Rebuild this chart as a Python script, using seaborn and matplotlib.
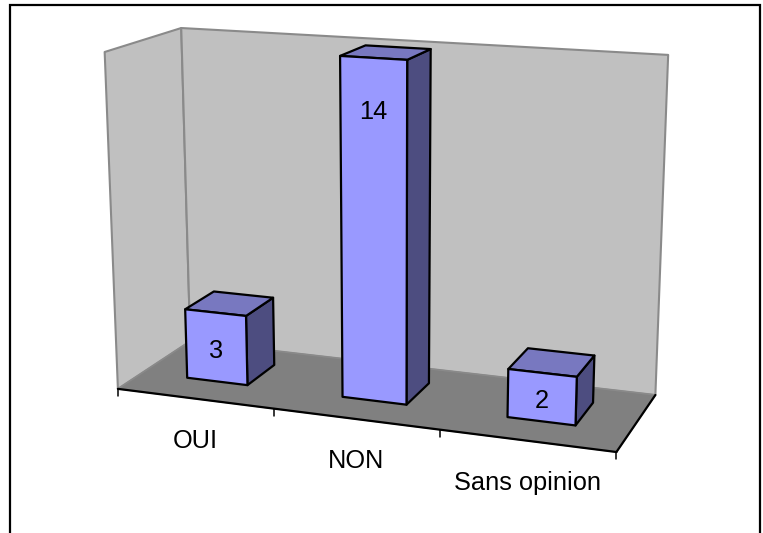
import numpy as np
import pandas as pd
import matplotlib
matplotlib.use("Agg")
import matplotlib.pyplot as plt
from matplotlib.patches import Polygon
from matplotlib.transforms import Transform
import seaborn as sns

categories = ["OUI", "NON", "Sans opinion"]
values = [3, 14, 2]

Z_MAX = 14
BAR_WIDTH = 0.395
BAR_CENTER = 0.493
DEPTH_FRONT, DEPTH_BACK = 0.33, 0.74
C_FRONT, C_TOP, C_SIDE = "#9999FF", "#7878C0", "#4D4D80"
C_WALL, C_FLOOR, C_WALL_EDGE = "#C0C0C0", "#808080", "#8A8A8A"
W, H = 763, 533

sns.set_theme(style="white")
plt.rcParams["font.family"] = ["Liberation Sans", "DejaVu Sans"]

# camera calibrated on the corners of the plot box (world x, depth, z -> pixel)
world = np.array([[0, 0, 0], [3, 0, 0], [3, 1, 0], [0, 1, 0],
                  [0, 1, Z_MAX], [3, 1, Z_MAX], [0, 0, Z_MAX]], float)
pixel = np.array([[118, 387], [617, 453], [655, 394], [190, 343],
                  [182, 27], [668, 55], [104, 53]], float)
A, b = [], []
for (X, Y, Z), (u, v) in zip(world, pixel):
    A.append([X, Y, Z, 1, 0, 0, 0, 0, -u * X, -u * Y, -u * Z]); b.append(u)
    A.append([0, 0, 0, 0, X, Y, Z, 1, -v * X, -v * Y, -v * Z]); b.append(v)
P = np.append(np.linalg.lstsq(np.array(A), np.array(b), rcond=None)[0], 1).reshape(3, 4)


def project(x, y, z):
    h = P @ np.array([x, y, z, 1.0])
    return h[0] / h[2], h[1] / h[2]


class FrontPlane(Transform):
    """Maps seaborn's bar coordinates (category position, value) onto the bars' front plane."""
    input_dims = output_dims = 2

    def transform_non_affine(self, values):
        xy = np.asarray(values, float)
        return np.array([project(px + BAR_CENTER, DEPTH_FRONT, pz) for px, pz in xy])


fig, ax = plt.subplots(figsize=(W / 100, H / 100), dpi=100)
fig.subplots_adjust(0, 0, 1, 1)

df = pd.DataFrame({"cat": categories, "val": values})
sns.barplot(data=df, x="cat", y="val", ax=ax, color=C_FRONT, saturation=1,
            width=BAR_WIDTH, edgecolor="black", linewidth=1.6, zorder=4)
ax.set_xlim(0, W)
ax.set_ylim(H, 0)
ax.set_axis_off()

front = FrontPlane() + ax.transData
for patch in ax.patches:
    patch.set_transform(front)
    patch.set_joinstyle("round")


def quad(corners, fc, ec, lw=1.6, z=3):
    ax.add_patch(Polygon([project(*c) for c in corners], closed=True, facecolor=fc,
                         edgecolor=ec, linewidth=lw, zorder=z, joinstyle="round"))


n = len(categories)
# walls and floor
quad([(0, 0, 0), (0, 1, 0), (0, 1, Z_MAX), (0, 0, Z_MAX)], C_WALL, C_WALL_EDGE, 1.5, 1)
quad([(0, 1, 0), (n, 1, 0), (n, 1, Z_MAX), (0, 1, Z_MAX)], C_WALL, C_WALL_EDGE, 1.5, 1)
quad([(0, 0, 0), (n, 0, 0), (n, 1, 0), (0, 1, 0)], C_FLOOR, C_WALL_EDGE, 1.0, 2)
for a, b_ in [((0, 0, 0), (n, 0, 0)), ((n, 0, 0), (n, 1, 0))]:
    pa, pb = project(*a), project(*b_)
    ax.plot([pa[0], pb[0]], [pa[1], pb[1]], color="black", lw=1.6, zorder=2.5,
            solid_capstyle="round")

# ticks and category labels
for i in range(n + 1):
    tx, ty = project(i, 0, 0)
    ax.plot([tx, tx], [ty, ty + 7], color="black", lw=1.1, zorder=2.5)
for i, c in enumerate(categories):
    tx, ty = project(i + 0.5, 0, 0)
    ax.text(tx + 1, ty + 42.5, c, ha="center", va="center", fontsize=18.3, color="black")

# side and top faces, data labels
for i, v in enumerate(values):
    x0, x1 = i + BAR_CENTER - BAR_WIDTH / 2, i + BAR_CENTER + BAR_WIDTH / 2
    quad([(x1, DEPTH_FRONT, 0), (x1, DEPTH_BACK, 0), (x1, DEPTH_BACK, v), (x1, DEPTH_FRONT, v)],
         C_SIDE, "black")
    quad([(x0, DEPTH_FRONT, v), (x1, DEPTH_FRONT, v), (x1, DEPTH_BACK, v), (x0, DEPTH_BACK, v)],
         C_TOP, "black")
    lx, ly = project(i + BAR_CENTER, DEPTH_FRONT, v - min(v / 2, 2.0))
    ax.text(lx, ly + 3.5, str(v), ha="center", va="center", fontsize=18.3, color="black", zorder=5)

# chart frame (open at the bottom)
ax.plot([10, 10, 760, 760], [H, 5, 5, H], color="black", lw=1.6, zorder=6,
        solid_joinstyle="miter", clip_on=False)

fig.savefig("out.png", dpi=100)
